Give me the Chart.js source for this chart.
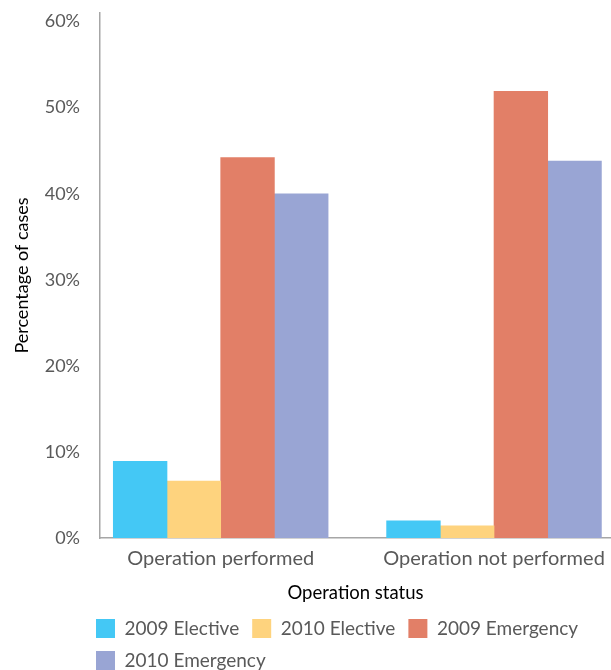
<!DOCTYPE html>
<html>
<head>
<meta charset="utf-8">
<script src="https://cdn.jsdelivr.net/npm/chart.js@4"></script>
<style>
  html, body { margin: 0; padding: 0; background: #fff; }
  #wrap { width: 611px; height: 670px; }
</style>
</head>
<body>
<div id="wrap"><canvas id="chartEstado"></canvas></div>
<script>
// Datos (porcentaje de casos)
const categorias = ['Operation performed', 'Operation not performed'];
const electiva2009 = [8.9, 2.0];
const electiva2010 = [6.6, 1.4];
const urgencia2009 = [44.2, 51.9];
const urgencia2010 = [40.0, 43.8];
const ticksY = [0, 10, 20, 30, 40, 50, 60];

const fuente = 'Lato, "Open Sans", sans-serif';
const gris = '#595959';

const serie = (label, valores, color) => ({
    label: label,
    data: valores.map((v, i) => ({ x: i, y: v })),
    backgroundColor: color,
    borderWidth: 0,
    barThickness: 53.7
});

// Coloca la leyenda donde está en la imagen original
const leyendaPlugin = {
    id: 'leyendaPos',
    afterLayout(chart) {
        chart.legend.left = 83;
        chart.legend.top = 606;
    }
};

const ctx = document.getElementById('chartEstado').getContext('2d');
new Chart(ctx, {
    type: 'bar',
    data: {
        datasets: [
            serie('2009 Elective', electiva2009, '#44C8F5'),
            serie('2010 Elective', electiva2010, '#FED37E'),
            serie('2009 Emergency', urgencia2009, '#E27F67'),
            serie('2010 Emergency', urgencia2010, '#99A5D4')
        ]
    },
    options: {
        responsive: true,
        maintainAspectRatio: false,
        animation: false,
        layout: { padding: { top: 13, right: 0, bottom: 0, left: 0 } },
        plugins: {
            tooltip: { enabled: false },
            legend: {
                position: 'bottom',
                align: 'start',
                labels: {
                    boxWidth: 19,
                    boxHeight: 19,
                    padding: 13,
                    color: gris,
                    font: { family: fuente, size: 19 }
                }
            }
        },
        scales: {
            x: {
                type: 'linear',
                offset: false,
                min: -0.4416,
                max: 1.428,
                afterBuildTicks: (eje) => { eje.ticks = categorias.map((c, i) => ({ value: i })); },
                afterFit: (eje) => { eje.height = 58; eje.paddingLeft = 0; eje.paddingRight = 0; },
                ticks: {
                    color: gris,
                    padding: 9,
                    maxRotation: 0,
                    autoSkip: false,
                    font: { family: fuente, size: 20 },
                    callback: (v) => categorias[v]
                },
                grid: { display: false, drawTicks: false },
                border: { display: true, color: '#A6A6A6', width: 1.5 },
                title: {
                    display: true,
                    text: 'Operation status',
                    color: '#000',
                    font: { family: fuente, size: 18.5 },
                    padding: { top: 0, bottom: -8 }
                }
            },
            y: {
                min: 0,
                max: 61,
                afterBuildTicks: (eje) => { eje.ticks = ticksY.map(v => ({ value: v })); },
                afterFit: (eje) => { eje.width = 100; eje.paddingTop = 0; },
                ticks: {
                    color: gris,
                    padding: 20,
                    font: { family: fuente, size: 18 },
                    callback: (v) => v + '%'
                },
                grid: { display: false, drawTicks: false },
                border: { display: true, color: '#A6A6A6', width: 1.5 },
                title: {
                    display: true,
                    text: 'Percentage of cases',
                    color: '#000',
                    font: { family: fuente, size: 18 },
                    padding: { top: 11, bottom: 0 }
                }
            }
        }
    },
    plugins: [leyendaPlugin]
});
</script>
</body>
</html>
